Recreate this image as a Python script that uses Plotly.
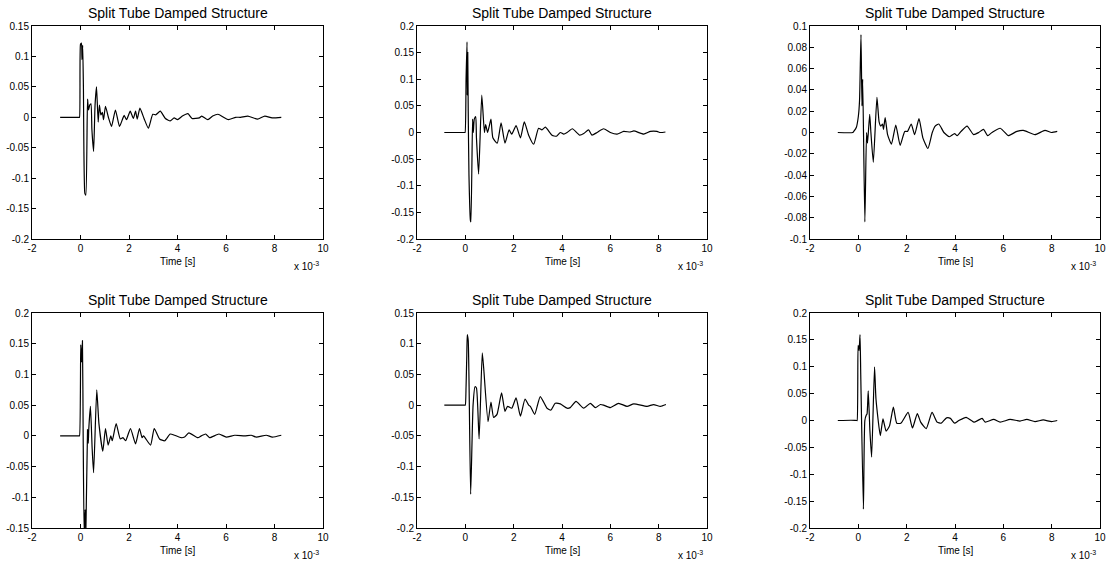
import plotly.graph_objects as go

# ---------------- data (time in ms, i.e. units of 1e-3 s) ----------------
t1 = [-0.84, -0.06, -0.04, 0.0, 0.04, 0.06, 0.09, 0.12, 0.18, 0.22, 0.29, 0.33, 0.38, 0.43, 0.47, 0.54,
      0.6, 0.66, 0.73, 0.78, 0.84, 0.9, 0.95, 1.03, 1.15, 1.28, 1.44, 1.61, 1.8, 1.9, 2.05, 2.18,
      2.27, 2.34, 2.45, 2.62, 2.8, 2.98, 3.1, 3.29, 3.5, 3.7, 3.86, 4.0, 4.2, 4.43, 4.6, 4.9, 5.0,
      5.25, 5.45, 5.67, 5.9, 6.1, 6.4, 6.6, 6.9, 7.3, 7.6, 7.9, 8.28]
y1 = [0, 0, 0, 0.12, 0.122, 0.095, 0.118, 0.05, -0.125, -0.128, 0.03, 0.012, 0.02, 0.022, -0.02, -0.056,
      0.02, 0.05, -0.008, 0.02, 0.004, 0.008, -0.004, 0.018, 0.0, -0.015, 0.012, -0.015, 0.003, -0.004, 0.01, -0.002,
      0.01, -0.003, 0.015, -0.002, -0.018, 0.005, 0.004, 0.01, -0.002, -0.006, -0.001, -0.004, 0.002, 0.006, -0.002, -0.001, 0.002,
      -0.004, 0.002, 0.005, 0.0, -0.004, 0.0, 0.0, 0.002, -0.003, 0.002, -0.001, 0.0]

t2 = [-0.87, -0.03, -0.01, 0.03, 0.07, 0.08, 0.1, 0.12, 0.15, 0.21, 0.23, 0.3, 0.33, 0.37, 0.43, 0.46, 0.55,
      0.68, 0.79, 0.84, 0.92, 0.98, 1.06, 1.14, 1.32, 1.48, 1.64, 1.81, 1.92, 2.1, 2.28, 2.44, 2.62,
      2.83, 3.03, 3.17, 3.31, 3.59, 3.77, 3.93, 4.07, 4.21, 4.43, 4.73, 4.9, 5.1, 5.24, 5.45, 5.72,
      6.0, 6.28, 6.55, 6.83, 6.97, 7.38, 7.66, 7.93, 8.07, 8.28]
y2 = [0, 0, 0, 0.1, 0.17, 0.07, 0.15, 0.04, -0.08, -0.165, -0.168, 0.025, 0.0, 0.025, 0.03, -0.01, -0.078,
      0.07, 0.0, 0.015, 0.0, 0.01, 0.025, -0.01, -0.02, 0.018, -0.02, 0.005, -0.003, 0.013, -0.01, 0.02, -0.005,
      -0.022, 0.008, 0.005, 0.01, -0.005, -0.007, 0.0, -0.003, 0.0, 0.007, -0.005, -0.002, 0.005, -0.005, 0.0, 0.007,
      0.0, -0.003, 0.002, 0.001, 0.003, -0.003, 0.002, 0.002, 0.0, 0.001]

t3 = [-0.85, -0.23, -0.19, -0.08, 0.0, 0.05, 0.11, 0.15, 0.18, 0.27, 0.34, 0.38, 0.47, 0.52, 0.62,
      0.77, 0.86, 0.93, 1.0, 1.04, 1.11, 1.21, 1.37, 1.55, 1.73, 1.92, 2.03, 2.19, 2.33, 2.51, 2.67,
      2.88, 3.06, 3.18, 3.33, 3.54, 3.77, 3.98, 4.09, 4.25, 4.5, 4.77, 4.98, 5.18, 5.35, 5.53, 5.87,
      6.15, 6.21, 6.56, 6.83, 7.31, 7.72, 7.99, 8.23]
y3 = [0, 0, 0.001, 0.005, 0.015, 0.03, 0.092, 0.025, 0.05, -0.084, 0.0, -0.01, 0.017, 0.0, -0.028,
      0.033, 0.01, 0.006, 0.008, 0.003, 0.014, -0.002, -0.011, 0.007, -0.012, 0.001, 0.001, 0.008, -0.002, 0.013, -0.005,
      -0.015, 0.0, 0.006, 0.008, 0.0, -0.004, -0.001, -0.003, 0.001, 0.006, -0.002, 0.0, 0.003, -0.003, 0.0, 0.004,
      -0.002, -0.003, 0.001, 0.002, -0.002, 0.002, 0.0, 0.001]

t4 = [-0.84, -0.06, -0.04, 0.01, 0.04, 0.08, 0.11, 0.15, 0.19, 0.22, 0.29, 0.32, 0.34, 0.41, 0.48, 0.54,
      0.67, 0.76, 0.92, 1.03, 1.14, 1.25, 1.31, 1.47, 1.64, 1.75, 1.86, 2.06, 2.27, 2.43, 2.54, 2.6,
      2.89, 3.04, 3.26, 3.47, 3.7, 3.88, 4.15, 4.29, 4.47, 4.84, 4.98, 5.16, 5.32, 5.71, 6.01, 6.36,
      6.77, 7.04, 7.25, 7.66, 7.91, 8.28]
y4 = [0, 0, 0, 0.148, 0.12, 0.155, 0.0, -0.16, -0.12, -0.16, 0.01, -0.012, 0.01, 0.048, -0.02, -0.06,
      0.075, 0.02, -0.025, 0.012, -0.015, 0.0, -0.008, 0.02, -0.005, -0.003, -0.008, 0.012, -0.013, 0.012, -0.003, 0.0,
      -0.015, 0.012, -0.005, -0.008, 0.003, 0.001, -0.003, -0.002, 0.005, -0.003, 0.0, 0.003, -0.003, 0.003, -0.002, 0.001,
      0.0, 0.001, -0.002, 0.001, -0.002, 0.001]

t5 = [-0.87, -0.02, 0.0, 0.03, 0.06, 0.08, 0.12, 0.22, 0.32, 0.4, 0.46, 0.57, 0.7, 0.76, 0.94, 1.06,
      1.17, 1.31, 1.5, 1.64, 1.75, 1.92, 2.1, 2.28, 2.47, 2.62, 2.69, 2.87, 3.1, 3.38, 3.54, 3.72,
      3.93, 4.21, 4.34, 4.58, 4.9, 5.17, 5.38, 5.59, 5.72, 6.0, 6.34, 6.69, 6.97, 7.52, 7.79, 8.07, 8.3]
y5 = [0, 0, 0, 0.03, 0.08, 0.115, 0.105, -0.145, 0.0, 0.03, 0.028, -0.055, 0.085, 0.06, -0.027, 0.005,
      -0.02, -0.015, 0.02, -0.01, -0.002, -0.005, 0.012, -0.018, 0.01, 0.0, -0.002, -0.015, 0.014, -0.005, -0.008, 0.003,
      0.002, -0.005, -0.004, 0.006, -0.005, 0.003, -0.004, 0.001, 0.0, -0.004, 0.003, -0.002, 0.002, -0.002, 0.001, -0.002, 0.001]

t6 = [-0.85, -0.3, -0.07, -0.05, -0.01, 0.03, 0.07, 0.1, 0.21, 0.27, 0.33, 0.36, 0.41, 0.48, 0.55, 0.67,
      0.73, 0.91, 1.02, 1.15, 1.29, 1.45, 1.59, 1.76, 2.06, 2.24, 2.44, 2.58, 2.81, 3.05, 3.26, 3.43,
      3.65, 3.81, 3.98, 4.16, 4.46, 4.8, 5.12, 5.25, 5.6, 5.87, 6.28, 6.69, 6.97, 7.31, 7.65, 8.0, 8.23]
y6 = [0, 0.0005, 0, 0, 0.14, 0.13, 0.16, 0.085, -0.165, 0.0, 0.01, 0.012, 0.055, -0.02, -0.068, 0.1,
      0.04, -0.028, 0.003, -0.02, -0.01, 0.025, -0.005, -0.005, 0.015, -0.014, 0.013, -0.003, -0.015, 0.015, -0.003, -0.005,
      0.005, 0.004, -0.005, 0.0, 0.006, -0.003, 0.004, -0.003, 0.002, -0.003, 0.002, -0.001, 0.002, -0.002, 0.001, -0.002, 0.0]

series = [(t1, y1), (t2, y2), (t3, y3), (t4, y4), (t5, y5), (t6, y6)]

x_ticks = [-2, 0, 2, 4, 6, 8, 10]
x_ticktext = ["-2", "0", "2", "4", "6", "8", "10"]

yt_a = [-0.2, -0.15, -0.1, -0.05, 0, 0.05, 0.1, 0.15]
yt_a_txt = ["-0.2", "-0.15", "-0.1", "-0.05", "0", "0.05", "0.1", "0.15"]
yt_b = [-0.2, -0.15, -0.1, -0.05, 0, 0.05, 0.1, 0.15, 0.2]
yt_b_txt = ["-0.2", "-0.15", "-0.1", "-0.05", "0", "0.05", "0.1", "0.15", "0.2"]
yt_c = [-0.1, -0.08, -0.06, -0.04, -0.02, 0, 0.02, 0.04, 0.06, 0.08, 0.1]
yt_c_txt = ["-0.1", "-0.08", "-0.06", "-0.04", "-0.02", "0", "0.02", "0.04", "0.06", "0.08", "0.1"]
yt_d = [-0.15, -0.1, -0.05, 0, 0.05, 0.1, 0.15, 0.2]
yt_d_txt = ["-0.15", "-0.1", "-0.05", "0", "0.05", "0.1", "0.15", "0.2"]

y_ranges = [[-0.2, 0.15], [-0.2, 0.2], [-0.1, 0.1], [-0.15, 0.2], [-0.2, 0.15], [-0.2, 0.2]]
y_tickinfo = [(yt_a, yt_a_txt), (yt_b, yt_b_txt), (yt_c, yt_c_txt), (yt_d, yt_d_txt), (yt_a, yt_a_txt), (yt_b, yt_b_txt)]

title_text = "Split Tube Damped Structure"
xlabel_text = "Time [s]"

# ---------------- layout geometry ----------------
W, H = 1107, 562
col_px = [(32, 323), (417, 707), (810, 1100)]
row_px = [(26, 239), (313, 528)]

FONT = "Arial, Liberation Sans, Helvetica, sans-serif"

fig = go.Figure()
layout = dict(width=W, height=H, autosize=False,
              margin=dict(l=0, r=0, t=0, b=0, pad=0, autoexpand=False),
              paper_bgcolor="white", plot_bgcolor="white", showlegend=False,
              font=dict(family=FONT, size=10, color="black"))
annotations = []

for i, (tx, ty) in enumerate(series):
    r, c = divmod(i, 3)
    xa = "xaxis" if i == 0 else f"xaxis{i+1}"
    ya = "yaxis" if i == 0 else f"yaxis{i+1}"
    xr = "x" if i == 0 else f"x{i+1}"
    yr = "y" if i == 0 else f"y{i+1}"
    x0, x1 = col_px[c]
    top, bot = row_px[r]
    xd = [x0 / W, x1 / W]
    yd = [1 - bot / H, 1 - top / H]
    fig.add_trace(go.Scatter(x=tx, y=ty, mode="lines", xaxis=xr, yaxis=yr,
                             line=dict(color="black", width=1.2, shape="spline", smoothing=0.5)))
    common = dict(showline=True, linecolor="black", linewidth=1, mirror="ticks",
                  ticks="inside", ticklen=4, tickcolor="black", tickwidth=1, automargin=False,
                  showgrid=False, zeroline=False, tickfont=dict(family=FONT, size=10, color="black"))
    layout[xa] = dict(domain=xd, anchor=yr, range=[-2, 10], tickmode="array",
                      tickvals=x_ticks, ticktext=x_ticktext, **common)
    tv, tt = y_tickinfo[i]
    layout[ya] = dict(domain=yd, anchor=xr, range=y_ranges[i], tickmode="array",
                      tickvals=tv, ticktext=tt, **common)
    cx = (x0 + x1) / 2 / W
    annotations.append(dict(text=title_text, x=cx, y=1 - (top - 13) / H, xref="paper", yref="paper",
                            xanchor="center", yanchor="middle", showarrow=False,
                            font=dict(family=FONT, size=14, color="black")))
    annotations.append(dict(text=xlabel_text, x=cx, y=1 - (bot + 22) / H, xref="paper", yref="paper",
                            xanchor="center", yanchor="middle", showarrow=False,
                            font=dict(family=FONT, size=10, color="black")))
    annotations.append(dict(text="x 10<sup>-3</sup>", x=(x1 - 2) / W, y=1 - (bot + 27) / H,
                            xref="paper", yref="paper", xanchor="right", yanchor="middle",
                            showarrow=False, font=dict(family=FONT, size=10, color="black")))

layout["annotations"] = annotations
fig.update_layout(**layout)
fig.write_html("out.html", config={"displayModeBar": False},
               post_script="document.body.style.margin='0';document.body.style.padding='0';"
                           "document.body.style.overflow='hidden';")
